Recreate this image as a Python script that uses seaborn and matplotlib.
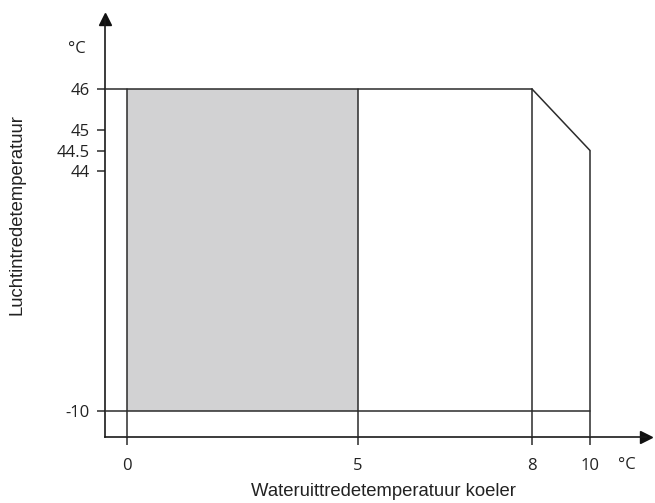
import numpy as np
import matplotlib
matplotlib.use("Agg")
import matplotlib.pyplot as plt
import seaborn as sns

# ── data ─────────────────────────────────────────────
x_ticks = [0, 5, 8, 10]
x_labels = ["0", "5", "8", "10"]
y_ticks = [-10, 44, 44.5, 45, 46]
y_labels = ["-10", "44", "44.5", "45", "46"]

# bedrijfsgebied (envelope) en gearceerd gebied
env_x = [0, 8, 10, 10]
env_y = [46, 46, 44.5, -10]
shade_x = [0, 5]
shade_y = [-10, 46]

x_title = "Wateruittredetemperatuur koeler"
y_title = "Luchtintredetemperatuur"
unit = "°C"

# ── schematische (niet-lineaire) schaal ───────────────
# breakpoints -> pixelposities in figuur
X_BP = [-2, 0, 5, 8, 10, 14]
X_PX = [127 - 92.4, 127, 358, 532, 590, 648]
Y_BP = [-30, -10, 44, 46, 50]
Y_PX = [92 - 88.9, 92, 332, 414, 578]


def make_scale(bp, px):
    bp, px = np.asarray(bp, float), np.asarray(px, float)
    def fwd(v):
        return np.interp(v, bp, px)
    def inv(p):
        return np.interp(p, px, bp)
    return fwd, inv


sns.set_theme(style="white")
plt.rcParams["font.family"] = ["Open Sans", "DejaVu Sans"]

W, H = 655, 503
fig = plt.figure(figsize=(W / 100, H / 100), dpi=100)
ax_l, ax_r, ax_b, ax_t = 105, 646, 66, 484
ax = fig.add_axes([ax_l / W, ax_b / H, (ax_r - ax_l) / W, (ax_t - ax_b) / H])

fx, ix = make_scale(X_BP, X_PX)
fy, iy = make_scale(Y_BP, Y_PX)
ax.set_xscale("function", functions=(fx, ix))
ax.set_yscale("function", functions=(fy, iy))
x0, x1 = ix(ax_l), ix(ax_r)
y0, y1 = iy(ax_b), iy(ax_t)
ax.set_xlim(x0, x1)
ax.set_ylim(y0, y1)

line_c = "#2b2b2b"
lw = 1.1

# gearceerd gebied
ax.fill_between(shade_x, shade_y[0], shade_y[1], color="#d2d2d3", lw=0, zorder=1)

# grenslijnen
ax.plot([x0, env_x[1]], [env_y[0], env_y[1]], color=line_c, lw=lw, zorder=3)
ax.plot(env_x[1:3], env_y[1:3], color=line_c, lw=lw, zorder=3)
ax.plot([env_x[3], env_x[3]], [env_y[2], y0], color=line_c, lw=lw, zorder=3)
ax.plot([x0, env_x[3]], [env_y[3], env_y[3]], color=line_c, lw=lw, zorder=3)
for xv in [env_x[0], shade_x[1], env_x[1]]:
    ax.plot([xv, xv], [y0, env_y[0]], color=line_c, lw=lw, zorder=3)

# assen
sns.despine(ax=ax, top=True, right=True)
for s in ["left", "bottom"]:
    ax.spines[s].set_color("#1a1a1a")
    ax.spines[s].set_linewidth(1.2)
ax.plot(1, 0, ">", color="#111111", ms=9, transform=ax.transAxes, clip_on=False)
ax.plot(0, 1, "^", color="#111111", ms=9, transform=ax.transAxes, clip_on=False)

ax.set_xticks(x_ticks, x_labels)
ax.set_yticks(y_ticks, y_labels)
ax.tick_params(axis="both", which="major", direction="out", length=6, width=1.1,
               color=line_c, labelsize=12, labelcolor="#222222", pad=5,
               bottom=True, left=True)
ax.tick_params(axis="x", pad=9)
ax.minorticks_off()

ax.text(627 / W, 1 - 465 / H, unit, transform=fig.transFigure, ha="center",
        va="center", fontsize=12, color="#222222")
ax.text(77 / W, 1 - 49 / H, unit, transform=fig.transFigure, ha="center",
        va="center", fontsize=12, color="#222222")

fig.text(383 / W, 1 - 492 / H, x_title, ha="center", va="center", fontsize=13.3,
         family=["Liberation Sans", "DejaVu Sans"], color="#222222")
fig.text(17 / W, 1 - 215 / H, y_title, ha="center", va="center", fontsize=13.3,
         rotation=90, family=["Liberation Sans", "DejaVu Sans"], color="#222222")

fig.savefig("out.png", dpi=100)
